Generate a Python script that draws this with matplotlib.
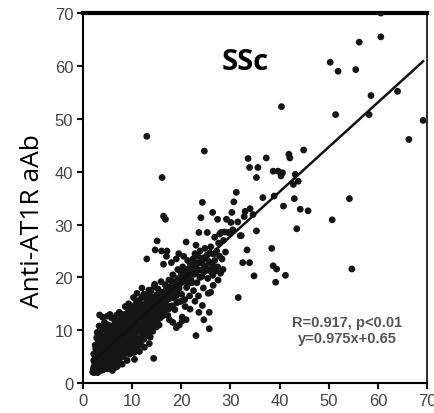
import numpy as np
import matplotlib
matplotlib.use('Agg')
import matplotlib.pyplot as plt

# ----------------------------------------------
# Points: (x, y)
dense_low = [
    (2.0, 2.1), (2.2, 3.0), (2.4, 2.5), (2.5, 4.0), (2.6, 3.2), (2.8, 2.2), (2.9, 5.1), (3.0, 3.6),
    (3.1, 2.8), (3.2, 4.5), (3.3, 6.0), (3.4, 3.1), (3.5, 5.3), (3.6, 2.4), (3.7, 4.2), (3.8, 7.0),
    (3.9, 3.8), (4.0, 5.8), (4.1, 4.6), (4.2, 2.9), (4.3, 6.5), (4.4, 3.5), (4.5, 8.0), (4.6, 5.0),
    (4.7, 4.1), (4.8, 6.8), (4.9, 2.7), (5.0, 5.5), (5.1, 7.4), (5.2, 3.9), (5.3, 6.1), (5.4, 9.0),
    (5.5, 4.7), (5.6, 5.9), (5.7, 8.3), (5.8, 3.3), (5.9, 6.9), (6.0, 7.7), (6.1, 4.4), (6.2, 10.5),
    (6.3, 5.6), (6.4, 8.8), (6.5, 6.4), (6.6, 3.0), (6.7, 9.5), (6.8, 7.1), (6.9, 5.2), (7.0, 11.0),
    (7.1, 8.1), (7.2, 6.0), (7.3, 9.8), (7.4, 4.5), (7.5, 7.5), (7.6, 12.0), (7.7, 8.6), (7.8, 6.7),
    (7.9, 10.2), (8.0, 5.0), (8.1, 9.1), (8.2, 7.9), (8.3, 11.5), (8.4, 6.3), (8.5, 10.0), (8.6, 8.4),
    (8.7, 12.6), (8.8, 7.2), (8.9, 9.6), (9.0, 4.3), (9.1, 11.0), (9.2, 8.8), (9.3, 13.5), (9.4, 6.9),
    (9.5, 10.6), (9.6, 9.3), (9.7, 14.2), (9.8, 8.0), (9.9, 12.1), (10.0, 10.0),
    (2.3, 2.0), (2.7, 3.7), (3.0, 2.0), (3.3, 4.8), (3.6, 3.5), (4.0, 2.5), (4.2, 4.0), (4.5, 3.2),
    (4.8, 4.5), (5.0, 3.0), (5.3, 4.9), (5.6, 2.8), (6.0, 5.5), (6.3, 3.8), (6.6, 6.2), (7.0, 5.2),
    (7.3, 7.0), (7.7, 5.6), (8.0, 8.2), (8.4, 7.5), (8.8, 9.0), (9.2, 7.7), (9.6, 10.8), (10.0, 8.6),
    (3.1, 8.2), (3.5, 9.6), (4.0, 10.5), (4.4, 11.5), (4.9, 9.8), (5.2, 11.0), (5.8, 12.4), (6.5, 11.8),
    (6.9, 12.9), (7.4, 13.4), (8.0, 13.0), (8.6, 14.5), (9.3, 15.0), (2.6, 6.5), (3.0, 7.4), (2.8, 8.6),
    (3.9, 9.0), (4.6, 10.2), (5.5, 10.2), (6.1, 9.0), (6.8, 10.5), (7.8, 11.0), (8.9, 11.8), (9.8, 13.4),
    (3.3, 10.8), (4.0, 12.5), (5.0, 12.7), (5.5, 13.0), (6.0, 2.4), (7.0, 3.2), (8.0, 3.6), (9.5, 5.5),
    (3.4, 12.9), (2.9, 9.6), (2.2, 5.5), (2.5, 7.2), (3.8, 5.0), (5.1, 6.6), (6.4, 7.3), (7.6, 9.2),
    (2.1, 2.6), (2.4, 3.6), (2.7, 2.9), (3.0, 4.3), (3.2, 3.3), (3.5, 4.1), (3.7, 5.7), (4.0, 3.4),
    (4.3, 5.2), (4.6, 6.1), (4.9, 5.0), (5.2, 7.0), (5.5, 6.3), (5.8, 7.9), (6.1, 6.6), (6.4, 4.9),
    (6.7, 8.0), (7.0, 7.4), (7.3, 8.7), (7.6, 6.9), (7.9, 9.4), (8.2, 8.8), (8.5, 7.0), (8.8, 10.4),
    (9.1, 9.7), (9.4, 11.6), (9.7, 8.9), (3.4, 6.8), (3.9, 7.8), (4.4, 8.9), (4.9, 8.1), (5.4, 9.6),
    (5.9, 10.8), (6.4, 10.0), (6.9, 9.1), (7.4, 11.2), (7.9, 12.2), (8.4, 10.9), (8.9, 13.2), (9.4, 12.4),
    (9.9, 14.6), (2.5, 5.0), (3.0, 5.8), (3.5, 7.6), (2.2, 4.3), (4.2, 7.3), (5.7, 4.2), (6.2, 3.4),
    (6.9, 4.0), (7.5, 4.9), (8.3, 5.3), (9.0, 6.2), (9.8, 6.6),
]

dense_mid = [
    (10.1, 7.0), (10.2, 12.8), (10.3, 9.2), (10.4, 5.8), (10.5, 11.4), (10.6, 14.5), (10.7, 8.5),
    (10.8, 10.7), (10.9, 13.0), (11.0, 6.5), (11.1, 9.9), (11.2, 12.2), (11.3, 15.6), (11.4, 8.0),
    (11.5, 11.0), (11.6, 13.8), (11.7, 10.4), (11.8, 7.3), (11.9, 12.7), (12.0, 16.2), (12.1, 9.5),
    (12.2, 11.9), (12.3, 14.1), (12.4, 8.3), (12.5, 13.2), (12.6, 10.8), (12.7, 15.0), (12.8, 12.4),
    (12.9, 9.0), (13.0, 14.6), (13.1, 11.5), (13.2, 16.8), (13.3, 12.9), (13.4, 10.1), (13.5, 15.4),
    (13.6, 13.6), (13.7, 8.7), (13.8, 11.8), (13.9, 17.5), (14.0, 14.0), (14.1, 12.3), (14.2, 9.8),
    (14.3, 16.0), (14.4, 13.1), (14.5, 18.3), (14.6, 11.2), (14.7, 15.1), (14.8, 13.9), (14.9, 10.6),
    (15.0, 16.7), (15.1, 14.4), (15.2, 12.1), (15.3, 17.8), (15.4, 15.5), (15.5, 11.0), (15.6, 13.4),
    (15.7, 16.3), (15.8, 14.8), (15.9, 19.2), (16.0, 12.6), (10.5, 4.5), (11.5, 6.0), (12.5, 6.8),
    (13.5, 7.5), (11.0, 17.0), (12.0, 18.0), (10.3, 16.2), (14.6, 18.7), (14.4, 4.7),
    (16.1, 15.6), (16.3, 17.2), (16.5, 13.5), (16.7, 18.6), (16.9, 15.0), (17.1, 16.4), (17.3, 12.8),
    (17.5, 19.5), (17.7, 17.0), (17.9, 14.6), (18.1, 18.0), (18.3, 20.5), (18.5, 16.2), (18.7, 13.9),
    (18.9, 19.0), (19.1, 17.5), (19.3, 21.5), (19.5, 15.4), (19.7, 18.8), (19.9, 20.2), (20.1, 16.8),
    (20.3, 22.0), (20.5, 19.3), (20.7, 15.8), (20.9, 21.0), (21.1, 18.1), (21.3, 23.2), (21.5, 20.0),
    (21.7, 16.5), (21.9, 22.4), (16.4, 22.5), (17.0, 24.0), (18.0, 22.8), (19.0, 23.5), (18.3, 11.5),
    (19.6, 11.0), (20.2, 12.5), (17.6, 12.0), (21.0, 12.0), (16.0, 25.0), (15.1, 26.9), (14.7, 25.2),
    (13.0, 23.5), (17.1, 25.0), (21.0, 26.7), (23.0, 26.1), (19.5, 24.5), (20.5, 24.0),
    (10.0, 11.8), (10.3, 10.3), (10.6, 12.3), (10.9, 9.6), (11.2, 11.1), (11.5, 12.8), (11.8, 10.0),
    (12.1, 13.4), (12.4, 11.2), (12.7, 12.9), (13.0, 10.9), (13.3, 14.2), (13.6, 12.2), (13.9, 15.1),
    (14.2, 13.5), (14.5, 14.8), (14.8, 12.5), (15.1, 15.9), (15.4, 14.0), (15.7, 17.2), (16.0, 15.0),
    (16.3, 16.4), (16.6, 14.2), (16.9, 17.6), (17.2, 15.8), (17.5, 18.2), (17.8, 16.1), (18.1, 19.3),
    (18.4, 17.3), (18.7, 18.4), (19.0, 16.6), (19.3, 19.8), (19.6, 18.0), (19.9, 21.0), (10.4, 13.6),
    (10.9, 15.3), (11.4, 14.4), (11.9, 14.9), (12.4, 16.8), (12.9, 16.0), (13.4, 17.6), (13.9, 16.4),
    (10.7, 7.6), (11.6, 8.6), (12.3, 9.9), (13.2, 9.4), (14.1, 11.0), (14.9, 11.8), (15.7, 12.3),
    (16.5, 12.9), (17.4, 14.0), (18.2, 14.6), (19.1, 15.2), (20.0, 15.5),
]

dense_high = [
    (22.0, 19.5), (22.2, 21.8), (22.4, 23.5), (22.6, 20.6), (22.8, 24.5), (23.0, 22.3), (23.2, 19.0),
    (23.4, 24.0), (23.6, 21.4), (23.8, 25.0), (24.0, 22.8), (24.2, 20.2), (24.4, 23.7), (24.6, 21.0),
    (24.8, 25.5), (25.0, 22.0), (25.2, 24.2), (25.4, 19.8), (25.6, 23.0), (25.8, 21.5), (26.0, 25.8),
    (26.2, 22.6), (26.4, 20.4), (26.6, 24.4), (26.8, 23.2), (27.0, 21.2), (27.2, 25.0), (27.4, 22.0),
    (27.6, 26.5), (27.8, 24.0), (28.0, 20.8), (28.3, 23.5), (28.6, 27.0), (29.0, 24.8), (29.5, 28.5),
    (22.5, 17.5), (23.5, 16.5), (24.5, 18.0), (25.5, 17.0), (26.5, 18.5), (21.5, 18.8), (22.8, 15.5),
    (20.8, 14.5), (21.8, 14.0), (23.6, 13.4), (25.7, 13.4), (24.3, 14.7), (26.0, 17.2), (23.0, 9.0),
    (25.7, 10.3), (20.2, 11.8), (19.0, 10.5), (24.6, 12.0), (27.5, 19.5), (28.5, 21.5), (26.8, 27.6),
    (27.8, 28.2), (28.8, 28.6), (30.0, 28.5), (29.2, 31.0), (30.5, 29.0), (31.5, 30.5), (32.0, 27.9),
    (33.0, 32.5), (34.0, 33.0), (32.8, 31.5), (20.2, 19.1), (20.6, 20.6), (21.0, 19.6), (21.4, 21.6),
    (21.8, 20.8), (22.2, 19.0), (22.6, 22.4), (23.0, 20.8), (23.4, 22.8), (23.8, 20.0), (24.2, 23.0),
    (24.6, 22.2), (25.0, 23.6), (25.4, 21.4), (25.8, 24.6), (26.2, 21.0), (26.6, 22.0),
]

outliers = [
    (60.6, 70.0), (60.6, 65.5), (56.2, 64.5), (50.3, 60.7), (51.9, 59.0), (55.5, 59.3), (64.0, 55.2),
    (58.6, 54.4), (58.2, 50.8), (51.4, 50.8), (40.4, 52.3), (69.2, 49.7), (66.3, 46.1), (13.0, 46.7),
    (24.7, 43.9), (16.1, 38.9), (33.6, 42.5), (33.9, 40.8), (35.6, 40.8), (37.3, 42.6), (35.3, 38.9),
    (38.7, 40.1), (39.7, 40.1), (40.6, 39.8), (40.3, 39.2), (41.9, 43.3), (42.1, 42.6), (44.9, 44.1),
    (43.2, 39.5), (43.8, 38.2), (42.8, 37.6), (36.6, 35.1), (38.9, 35.4), (40.8, 33.5), (43.0, 34.9),
    (44.2, 32.9), (45.8, 32.6), (43.5, 29.2), (54.2, 34.9), (50.7, 30.9), (54.7, 21.6), (38.4, 25.5),
    (38.7, 22.2), (39.4, 21.6), (39.2, 19.1), (41.2, 20.4), (33.4, 25.2), (32.5, 22.8), (33.9, 22.8),
    (34.8, 20.3), (31.6, 16.2), (35.3, 28.8), (34.6, 31.9), (31.2, 36.1), (30.7, 34.3), (30.3, 32.3),
    (30.1, 30.4), (32.2, 27.9), (24.3, 34.2), (24.0, 31.3), (26.4, 32.3), (27.4, 31.0), (25.3, 28.5),
    (28.1, 28.5), (23.6, 28.5), (16.4, 31.6), (16.8, 31.0),
]

# line as drawn in the picture (text label quotes the fitted equation)
line_x = [2, 69.2]
line_slope = 0.845
line_intercept = 2.4

# ----------------------------------------------
pts = np.array(dense_low + dense_mid + dense_high + outliers)

fig = plt.figure(figsize=(4.34, 4.14), dpi=100)
ax = fig.add_axes([0.191, 0.072, 0.793, 0.894])

ax.scatter(pts[:, 0], pts[:, 1], s=24, color='#151515', edgecolors='none', zorder=3)

# Regression line
xf = np.array(line_x)
ax.plot(xf, line_slope * xf + line_intercept, color='#111111', lw=1.8, zorder=4)

ax.set_xlim(0, 70)
ax.set_ylim(0, 70)
ax.set_xticks(range(0, 71, 10))
ax.set_yticks(range(0, 71, 10))
ax.tick_params(direction='out', length=4, width=1.5, color='#111111',
               labelcolor='#444444', labelsize=12, pad=3)
for lab in ax.get_xticklabels() + ax.get_yticklabels():
    lab.set_family('Liberation Sans')

ax.spines['left'].set_linewidth(1.5)
ax.spines['bottom'].set_linewidth(1.5)
ax.spines['top'].set_linewidth(3)
ax.spines['right'].set_linewidth(1.5)
ax.spines['right'].set_color('#333333')

ax.text(33, 60.9, 'SSc', fontsize=21, fontweight='bold', family='Open Sans',
        ha='center', va='center')
ax.text(53.8, 10.1, 'R=0.917, p<0.01\ny=0.975x+0.65', fontsize=10.5, fontweight='bold',
        family='Liberation Sans', color='#555555', ha='center', va='center', linespacing=1.2)

fig.text(0.075, 0.465, 'Anti-AT1R aAb', rotation=90, fontsize=19, family='Open Sans',
         ha='center', va='center')

plt.savefig('out.png', dpi=100)
